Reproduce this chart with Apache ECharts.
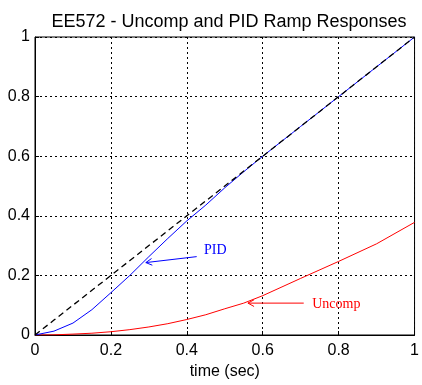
<!DOCTYPE html>
<html><head><meta charset="utf-8">
<script src="https://cdn.jsdelivr.net/npm/echarts@6/dist/echarts.min.js"></script>
<style>html,body{margin:0;padding:0;background:#fff}#c{width:422px;height:385px}</style>
</head><body><div id="c"></div>
<script>
var titleText = 'EE572 - Uncomp and PID Ramp Responses';
var xLabel = 'time (sec)';
var times  = [0,0.05,0.1,0.15,0.2,0.25,0.3,0.35,0.4,0.45,0.5,0.55,0.6,0.7,0.8,0.9,1.0];
var ramp   = [0,0.05,0.1,0.15,0.2,0.25,0.3,0.35,0.4,0.45,0.5,0.55,0.6,0.7,0.8,0.9,1.0];
var pid    = [0,0.013,0.04,0.085,0.142,0.2,0.263,0.324,0.383,0.436,0.494,0.548,0.6,0.7,0.8,0.9,1.0];
var uncomp = [0,0.0005,0.003,0.006,0.011,0.018,0.027,0.038,0.052,0.068,0.088,0.107,0.132,0.19,0.247,0.306,0.378];
// annotations in data coordinates: text position, arrow start, arrow tip
var pidNote    = {text:'PID',    color:'#0000ff', at:[0.475,0.283], from:[0.426,0.263], to:[0.292,0.243]};
var uncompNote = {text:'Uncomp', color:'#ff0000', at:[0.794,0.103], from:[0.708,0.107], to:[0.561,0.107]};

function pairs(v){ return times.map(function(t,i){return [t,v[i]];}); }
var chart = echarts.init(document.getElementById('c'), null, {renderer:'canvas'});
var axisCommon = {
  type:'value', min:0, max:1, interval:0.2,
  axisLine:{show:true, onZero:false, lineStyle:{color:'#000', width:1}},
  axisTick:{show:true, inside:true, length:4, lineStyle:{color:'#000'}},
  splitLine:{show:true, lineStyle:{color:'#000', width:1, type:[2,3]}},
  axisLabel:{color:'#000', fontFamily:'Liberation Sans', fontSize:16}
};
chart.setOption({
  animation:false,
  backgroundColor:'#fff',
  title:{text:titleText, left:224, top:8, textAlign:'center',
    textStyle:{fontFamily:'Liberation Sans', fontSize:18, fontWeight:'normal', color:'#000'}},
  grid:{left:35, right:4, top:37, bottom:48, show:true, borderColor:'#000', borderWidth:1, containLabel:false},
  xAxis:Object.assign({}, axisCommon, {
    name:xLabel, nameLocation:'middle', nameGap:29,
    nameTextStyle:{fontFamily:'Liberation Sans', fontSize:16, color:'#000'},
    axisLabel:Object.assign({}, axisCommon.axisLabel, {margin:8})
  }),
  yAxis:Object.assign({}, axisCommon, {
    axisLabel:Object.assign({}, axisCommon.axisLabel, {margin:5})
  }),
  series:[
    {type:'line', data:pairs(uncomp), symbol:'none', lineStyle:{color:'#ff0000', width:1}, z:3},
    {type:'line', data:pairs(pid), symbol:'none', lineStyle:{color:'#0000ff', width:1}, z:4},
    {type:'line', data:pairs(ramp), symbol:'none', lineStyle:{color:'#000', width:1.3, type:[6,4]}, z:5}
  ]
});
function noteGraphics(n){
  var a = chart.convertToPixel({gridIndex:0}, n.at);
  var f = chart.convertToPixel({gridIndex:0}, n.from);
  var t = chart.convertToPixel({gridIndex:0}, n.to);
  var ang = Math.atan2(f[1]-t[1], f[0]-t[0]);
  var L = 7, W = 0.5;
  var p1 = [t[0]+L*Math.cos(ang+W), t[1]+L*Math.sin(ang+W)];
  var p2 = [t[0]+L*Math.cos(ang-W), t[1]+L*Math.sin(ang-W)];
  var st = {stroke:n.color, lineWidth:1, fill:null};
  return [
    {type:'line', shape:{x1:f[0],y1:f[1],x2:t[0],y2:t[1]}, style:st, z:10},
    {type:'polyline', shape:{points:[p1,t,p2]}, style:st, z:10},
    {type:'text', x:a[0], y:a[1], style:{text:n.text, fill:n.color, font:'14px "Liberation Serif"', align:'center', verticalAlign:'middle'}, z:10}
  ];
}
chart.setOption({graphic:noteGraphics(pidNote).concat(noteGraphics(uncompNote))});
</script></body></html>
